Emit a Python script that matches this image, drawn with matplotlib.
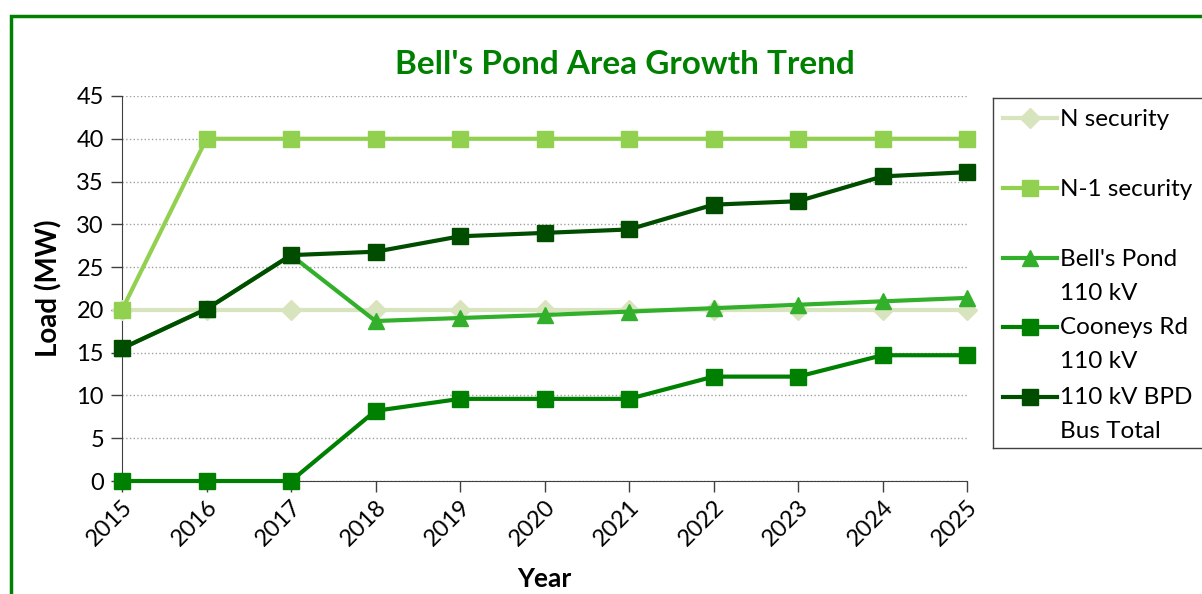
import matplotlib.pyplot as plt
from matplotlib.lines import Line2D
from matplotlib.patches import Rectangle

plt.rcParams['font.family'] = ['Lato', 'DejaVu Sans']

years = [2015, 2016, 2017, 2018, 2019, 2020, 2021, 2022, 2023, 2024, 2025]
n_security = [20, 20, 20, 20, 20, 20, 20, 20, 20, 20, 20]
n1_security = [20, 40, 40, 40, 40, 40, 40, 40, 40, 40, 40]
bells_pond = [15.5, 20.1, 26.4, 18.7, 19.05, 19.4, 19.8, 20.2, 20.6, 21.0, 21.4]
cooneys_rd = [0, 0, 0, 8.2, 9.6, 9.6, 9.6, 12.2, 12.2, 14.7, 14.7]
bus_total = [15.5, 20.1, 26.4, 26.8, 28.6, 29.0, 29.4, 32.3, 32.7, 35.6, 36.1]

series = [
    ('N security', n_security, '#d7e4bd', 'D', 10),
    ('N-1 security', n1_security, '#92d050', 's', 11),
    ("Bell's Pond\n110 kV", bells_pond, '#33b02b', '^', 12),
    ('Cooneys Rd\n110 kV', cooneys_rd, '#008000', 's', 11),
    ('110 kV BPD\nBus Total', bus_total, '#004d00', 's', 11),
]

W, H = 1202, 594
fig = plt.figure(figsize=(W / 100, H / 100), dpi=100)

# outer chart frame (runs off the right and bottom edges)
fig.patches.append(Rectangle((11 / W, -0.1), 1.0, 1.1 - 16 / H, transform=fig.transFigure,
                             fill=False, edgecolor='#008000', linewidth=2.5))

ax = fig.add_axes([122 / W, 1 - 481 / H, (967 - 122) / W, (481 - 96) / H])
for i, (label, vals, color, mk, ms) in enumerate(series):
    ax.plot(years, vals, color=color, marker=mk, markersize=ms, linewidth=3,
            zorder=3 + i, clip_on=False)

ax.set_xlim(2015, 2025)
ax.set_ylim(0, 45)
ax.set_yticks(range(0, 46, 5))
ax.set_xticks(years)
ax.set_xticklabels([str(y) for y in years], rotation=45, ha='right', rotation_mode='anchor')
ax.tick_params(axis='both', labelsize=17, direction='out', length=8, width=1, color='#404040')
ax.tick_params(axis='x', pad=3)
ax.tick_params(axis='y', pad=5)
ax.yaxis.grid(True, linestyle=':', color='#a0a0a0', linewidth=1)
ax.set_axisbelow(True)
for s in ['top', 'right']:
    ax.spines[s].set_visible(False)
ax.spines['left'].set_color('#404040')
ax.spines['bottom'].set_color('#404040')
ax.set_xlabel('Year', fontsize=19, fontweight='bold', labelpad=12)
ax.set_ylabel('Load (MW)', fontsize=20, fontweight='bold', labelpad=10)

fig.text(625 / W, 1 - 65 / H, "Bell's Pond Area Growth Trend", ha='center', va='center',
         fontsize=24, fontweight='bold', color='#008000')

# legend box drawn by hand so markers sit on the first text line
lax = fig.add_axes([993 / W, 1 - 448 / H, 220 / W, (448 - 98) / H])
lax.set_xlim(993, 1213)
lax.set_ylim(448, 98)
lax.set_xticks([])
lax.set_yticks([])
for s in lax.spines.values():
    s.set_color('#404040')
    s.set_linewidth(1)
entry_y = [118, 188, 258, 327, 397]
for (label, vals, color, mk, ms), y in zip(series, entry_y):
    lax.add_line(Line2D([1003, 1057], [y, y], color=color, linewidth=3))
    lax.add_line(Line2D([1030], [y], color=color, marker=mk, markersize=ms))
    for k, line in enumerate(label.split('\n')):
        lax.text(1060, y + 1 + 34 * k, line, fontsize=17.5, va='center', ha='left')

fig.savefig('out.png', dpi=100)
